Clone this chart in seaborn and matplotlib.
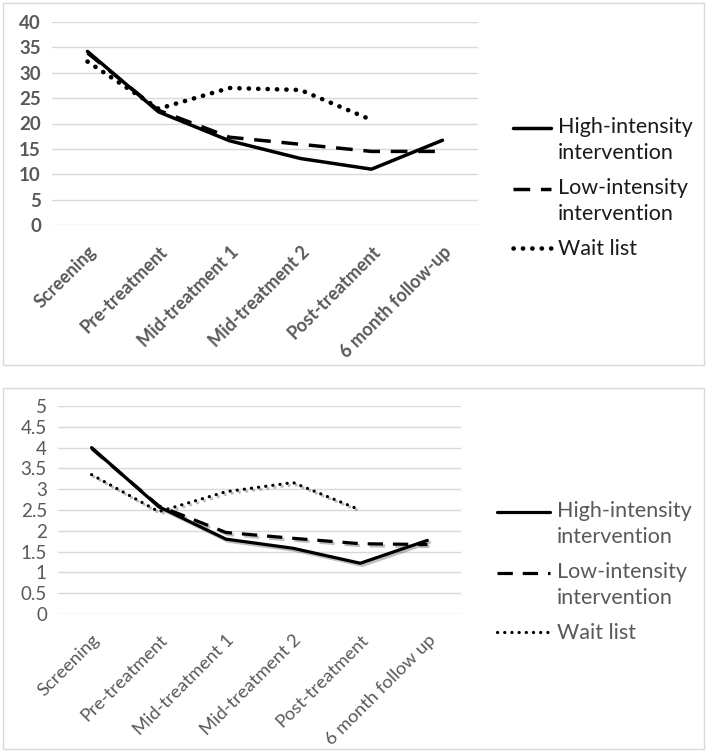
import numpy as np
import pandas as pd
import seaborn as sns
import matplotlib.pyplot as plt
import matplotlib.patches as patches
import matplotlib.patheffects as pe
from matplotlib.legend_handler import HandlerLine2D

sns.set_style("white")
plt.rcParams['font.family'] = ['Lato', 'DejaVu Sans']

stages_top = ["Screening", "Pre-treatment", "Mid-treatment 1", "Mid-treatment 2",
              "Post-treatment", "6 month follow-up"]
stages_bot = ["Screening", "Pre-treatment", "Mid-treatment 1", "Mid-treatment 2",
              "Post-treatment", "6 month follow up"]
groups = ["High-intensity\nintervention", "Low-intensity\nintervention", "Wait list"]

high_top = [34.2, 22.3, 16.6, 13.1, 11.0, 16.7]
low_top = [33.9, 22.6, 17.3, 15.9, 14.5, 14.5]
wait_top = [32.2, 22.9, 27.0, 26.6, 20.7, np.nan]

high_bot = [4.0, 2.58, 1.80, 1.58, 1.22, 1.77]
low_bot = [3.98, 2.60, 1.96, 1.82, 1.69, 1.67]
wait_bot = [3.35, 2.46, 2.94, 3.16, 2.50, np.nan]

grey = "#595959"


class FirstLineHandler(HandlerLine2D):
    # put the legend key level with the first line of a two-line label
    def __init__(self, shift, **kw):
        super().__init__(**kw)
        self.shift = shift

    def create_artists(self, legend, orig_handle, xdescent, ydescent, width,
                       height, fontsize, trans):
        arts = super().create_artists(legend, orig_handle, xdescent, ydescent,
                                      width, height, fontsize, trans)
        for a in arts:
            a.set_ydata(np.asarray(a.get_ydata()) + self.shift)
        return arts


fig = plt.figure(figsize=(7.09, 7.53), dpi=100)

# panel frames
for y0, h in [(3, 362), (388, 361)]:
    fig.add_artist(patches.Rectangle((3 / 709, 1 - (y0 + h) / 753), 701 / 709, h / 753,
                                     transform=fig.transFigure, fill=False,
                                     edgecolor="#d9d9d9", linewidth=1))


def panel(ax, stages, series, ymax, step, bold, shadow, lw, dot_lw, dot_gap,
          handlelen, leg_x, leg_y, tick_fs):
    df = pd.DataFrame({"stage": stages * 3,
                       "value": series[0] + series[1] + series[2],
                       "group": [g for g in groups for _ in stages]})
    df["x"] = [i for _ in groups for i in range(len(stages))]
    dashes = ["-", (0, (4.8, 3.1)), (0, (0.05, dot_gap))]
    for g, ls in zip(groups, dashes):
        d = df[df["group"] == g].dropna()
        sns.lineplot(data=d, x="x", y="value", ax=ax, color="black",
                     linewidth=lw, label=g, linestyle=ls)
        line = ax.lines[-1]
        if g == groups[2]:
            line.set_dash_capstyle("round")
            line.set_linewidth(dot_lw)
        else:
            line.set_dash_capstyle("butt")
        if shadow:
            line.set_path_effects([pe.SimpleLineShadow(offset=(1.5, -1.5), alpha=0.25),
                                   pe.Normal()])
    ax.set_xlim(-0.5, len(stages) - 0.5)
    ax.set_ylim(0, ymax)
    yt = np.arange(0, ymax + step / 2, step)
    ax.set_yticks(yt)
    ax.set_yticklabels([f"{v:g}" for v in yt])
    ax.set_xticks(range(len(stages)))
    ax.set_xticklabels(stages, rotation=45, ha="right", rotation_mode="anchor")
    ax.set_xlabel("")
    ax.set_ylabel("")
    weight = "bold" if bold else "normal"
    for t in ax.get_yticklabels():
        t.set_fontsize(13.5)
        t.set_color(grey)
        t.set_fontweight(weight)
    for t in ax.get_xticklabels():
        t.set_fontsize(tick_fs)
        t.set_color(grey)
        t.set_fontweight(weight)
    ax.tick_params(axis="y", length=0, pad=8)
    ax.tick_params(axis="x", length=0, pad=13)
    ax.grid(axis="y", color="#d9d9d9", linewidth=1)
    ax.set_axisbelow(True)
    for s in ax.spines.values():
        s.set_visible(False)
    handles, labels = ax.get_legend_handles_labels()
    hmap = {h: FirstLineHandler(9.0) for h, l in zip(handles, labels) if "\n" in l}
    leg = ax.legend(handles, labels, loc="center left", bbox_to_anchor=(leg_x, leg_y),
                    bbox_transform=fig.transFigure, frameon=False,
                    fontsize=15.5, handlelength=handlelen, handletextpad=0.32,
                    labelspacing=0.7, borderpad=0, borderaxespad=0,
                    handler_map=hmap)
    for t in leg.get_texts():
        t.set_color("#1a1a1a" if bold else grey)
        t.set_linespacing(1.4)
    for l in leg.get_lines():
        l.set_path_effects([])


ax1 = fig.add_axes([52 / 709, 1 - 225 / 753, 426 / 709, 203 / 753])
panel(ax1, stages_top, [high_top, low_top, wait_top], 40, 5, True, False,
      2.5, 3.3, 2.0, 1.77, 513 / 709, 1 - 188 / 753, 13)

ax2 = fig.add_axes([58 / 709, 1 - 614 / 753, 403 / 709, 208 / 753])
panel(ax2, stages_bot, [high_bot, low_bot, wait_bot], 5, 0.5, False, True,
      2.3, 2.3, 2.2, 2.45, 497 / 709, 1 - 572 / 753, 13.2)

fig.savefig("out.png", dpi=100)
